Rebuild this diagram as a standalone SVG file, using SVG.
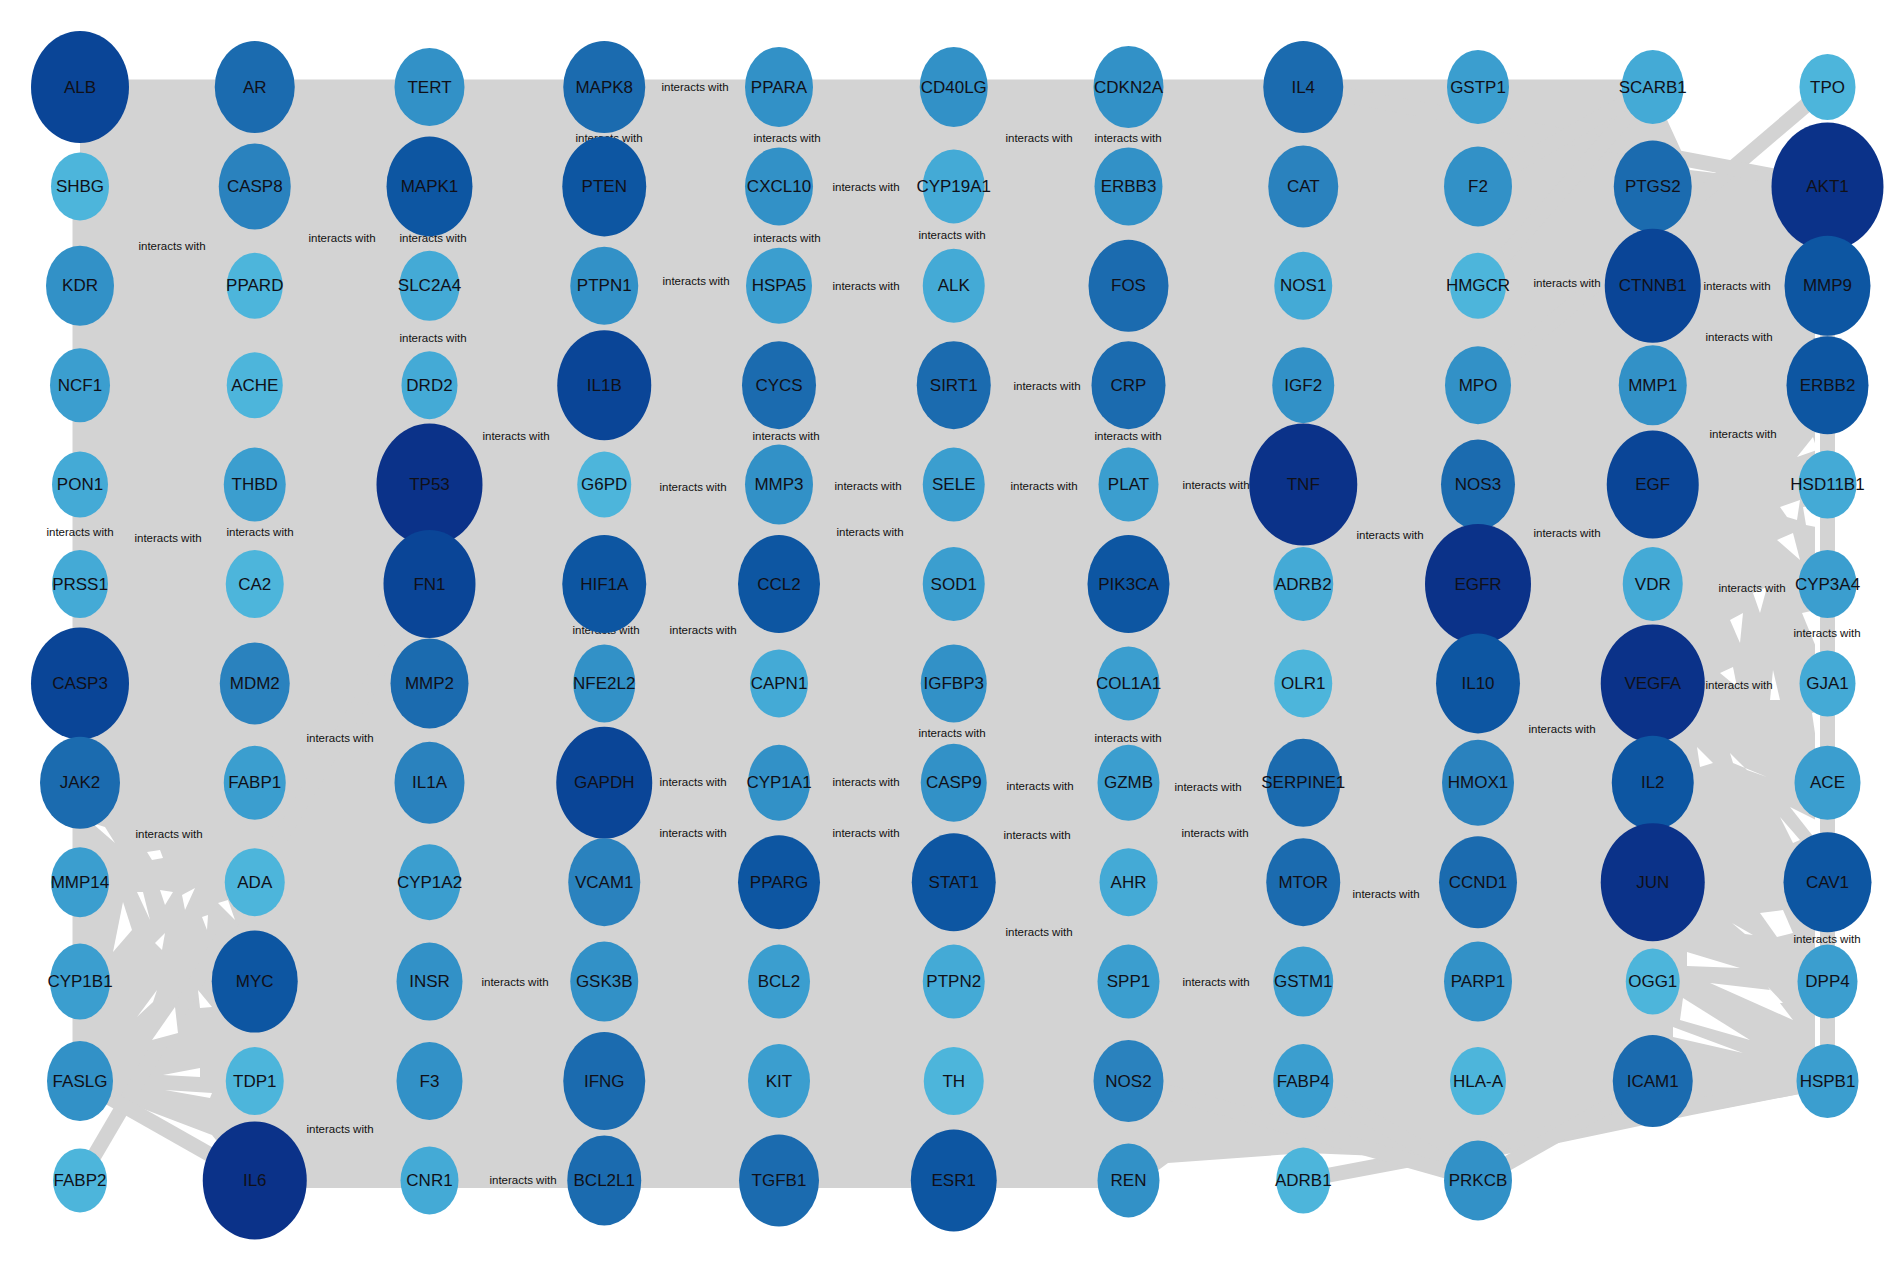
<svg xmlns="http://www.w3.org/2000/svg" width="1890" height="1265" viewBox="0 0 1890 1265">
<style>
.bundle{fill:#d3d3d3;stroke:none}
.gap{fill:#fff;stroke:none}
.e{stroke:#d3d3d3;stroke-width:15;fill:none;stroke-linecap:butt}
.el{font-family:"Liberation Sans",Arial,sans-serif;font-size:11.5px;fill:#111;text-anchor:middle;dominant-baseline:central}
.nd text{font-family:"Liberation Sans",Arial,sans-serif;font-size:17px;fill:#101018;text-anchor:middle;dominant-baseline:central}
.c1{fill:#4db5db}.c2{fill:#44aad6}.c3{fill:#3b9ecf}.c4{fill:#3291c7}.c5{fill:#2a82be}
.c6{fill:#1b6baf}.c7{fill:#0d56a2}.c8{fill:#0a4597}.c9{fill:#0b3289}
</style>
<rect width="1890" height="1265" fill="#fff"/>
<g id="edges">
<path class="bundle" d="M80,87 L1652,87 L1690,170 L1815,185 L1815,1081 L1805,1093 L1692,1115 L1478,1160 L1306,1153 L1168,1163 L1134,1188 L254,1188 L212,1135 L120,1100 L80,1081 Z"/>
<path class="e" d="M80,87 H1652.75"/>
<path class="e" d="M80,186 V1081"/>
<path class="e" d="M1827.5,186 V1081"/>
<path class="e" d="M1827.5,87 L1478,385"/>
<path class="e" d="M1303,87 L1827.5,186"/>
<path class="e" d="M1652.75,87 L1652.75,286"/>
<path class="e" d="M1652.75,87 L1478,286"/>
<path class="e" d="M1652.75,87 L1478,186"/>
<path class="e" d="M80,1180 L429.5,584"/>
<path class="e" d="M80,1081 L254.75,1180"/>
<path class="e" d="M1827.5,1081 L1303,1180"/>
<path class="e" d="M1827.5,1081 L1652.75,1081"/>
<path class="e" d="M1652.75,1081 L1478,1180"/>
<path class="e" d="M1478,1180 L1303,1081"/>
<path class="e" d="M1478,1180 L1128.5,1081"/>
<g id="edge-gaps">
<polygon class="gap" points="1687,952 1740,968 1687,966"/>
<polygon class="gap" points="1710,983 1770,990 1793,1020"/>
<polygon class="gap" points="1683,998 1750,1040 1680,1020"/>
<polygon class="gap" points="1673,1027 1743,1053 1673,1037"/>
<polygon class="gap" points="1760,913 1783,910 1793,933 1777,937"/>
<polygon class="gap" points="1768,987 1783,1003 1778,1003"/>
<polygon class="gap" points="1732,923 1753,935 1745,934"/>
<polygon class="gap" points="147,852 160,850 163,858 152,860"/>
<polygon class="gap" points="160,890 173,892 165,905"/>
<polygon class="gap" points="182,895 195,888 185,910"/>
<polygon class="gap" points="113,952 123,902 132,930"/>
<polygon class="gap" points="137,892 143,892 150,920"/>
<polygon class="gap" points="202,917 208,915 207,930"/>
<polygon class="gap" points="218,903 228,900 235,920"/>
<polygon class="gap" points="155,943 165,933 162,950"/>
<polygon class="gap" points="137,1017 157,990 153,1002"/>
<polygon class="gap" points="152,1040 175,1007 178,1033"/>
<polygon class="gap" points="198,990 212,1007 200,1008"/>
<polygon class="gap" points="163,1075 200,1068 200,1077"/>
<polygon class="gap" points="165,1090 212,1093 210,1098"/>
<polygon class="gap" points="92,823 105,827 115,843"/>
<polygon class="gap" points="1797,457 1813,437 1817,450"/>
<polygon class="gap" points="1780,507 1800,500 1797,520 1787,517"/>
<polygon class="gap" points="1777,540 1793,533 1800,560"/>
<polygon class="gap" points="1730,620 1743,613 1740,643"/>
<polygon class="gap" points="1753,593 1767,587 1760,613"/>
<polygon class="gap" points="1720,673 1733,667 1737,687"/>
<polygon class="gap" points="1773,670 1780,700 1770,700"/>
<polygon class="gap" points="1697,747 1713,763 1700,767"/>
<polygon class="gap" points="1730,753 1747,770 1767,777 1733,763"/>
<polygon class="gap" points="1780,817 1800,840 1793,843"/>
<polygon class="gap" points="1803,507 1816,505 1816,527 1806,525"/>
<polygon class="gap" points="1802,613 1816,610 1816,647"/>
<polygon class="gap" points="1812,713 1816,712 1816,740"/>
<polygon class="gap" points="1790,807 1816,820 1816,840"/>
</g>
</g>
<g id="edge-labels">
<text class="el" x="695" y="87">interacts with</text>
<text class="el" x="609" y="138">interacts with</text>
<text class="el" x="787" y="138">interacts with</text>
<text class="el" x="1039" y="138">interacts with</text>
<text class="el" x="1128" y="138">interacts with</text>
<text class="el" x="866" y="187">interacts with</text>
<text class="el" x="342" y="238">interacts with</text>
<text class="el" x="433" y="238">interacts with</text>
<text class="el" x="787" y="238">interacts with</text>
<text class="el" x="952" y="235">interacts with</text>
<text class="el" x="172" y="246">interacts with</text>
<text class="el" x="696" y="281">interacts with</text>
<text class="el" x="866" y="286">interacts with</text>
<text class="el" x="1567" y="283">interacts with</text>
<text class="el" x="1737" y="286">interacts with</text>
<text class="el" x="433" y="338">interacts with</text>
<text class="el" x="1739" y="337">interacts with</text>
<text class="el" x="1047" y="386">interacts with</text>
<text class="el" x="516" y="436">interacts with</text>
<text class="el" x="786" y="436">interacts with</text>
<text class="el" x="1128" y="436">interacts with</text>
<text class="el" x="1743" y="434">interacts with</text>
<text class="el" x="693" y="487">interacts with</text>
<text class="el" x="868" y="486">interacts with</text>
<text class="el" x="1044" y="486">interacts with</text>
<text class="el" x="1216" y="485">interacts with</text>
<text class="el" x="80" y="532">interacts with</text>
<text class="el" x="168" y="538">interacts with</text>
<text class="el" x="260" y="532">interacts with</text>
<text class="el" x="870" y="532">interacts with</text>
<text class="el" x="1390" y="535">interacts with</text>
<text class="el" x="1567" y="533">interacts with</text>
<text class="el" x="1752" y="588">interacts with</text>
<text class="el" x="606" y="630">interacts with</text>
<text class="el" x="703" y="630">interacts with</text>
<text class="el" x="1827" y="633">interacts with</text>
<text class="el" x="1739" y="685">interacts with</text>
<text class="el" x="340" y="738">interacts with</text>
<text class="el" x="952" y="733">interacts with</text>
<text class="el" x="1128" y="738">interacts with</text>
<text class="el" x="1562" y="729">interacts with</text>
<text class="el" x="693" y="782">interacts with</text>
<text class="el" x="866" y="782">interacts with</text>
<text class="el" x="1040" y="786">interacts with</text>
<text class="el" x="1208" y="787">interacts with</text>
<text class="el" x="169" y="834">interacts with</text>
<text class="el" x="693" y="833">interacts with</text>
<text class="el" x="866" y="833">interacts with</text>
<text class="el" x="1037" y="835">interacts with</text>
<text class="el" x="1215" y="833">interacts with</text>
<text class="el" x="1386" y="894">interacts with</text>
<text class="el" x="1039" y="932">interacts with</text>
<text class="el" x="1827" y="939">interacts with</text>
<text class="el" x="515" y="982">interacts with</text>
<text class="el" x="1216" y="982">interacts with</text>
<text class="el" x="340" y="1129">interacts with</text>
<text class="el" x="523" y="1180">interacts with</text>
</g>
<g id="nodes" class="nd">
<g id="ALB"><ellipse class="c8" cx="80" cy="87" rx="49" ry="56"/><text x="80" y="87">ALB</text></g>
<g id="AR"><ellipse class="c6" cx="254.75" cy="87" rx="40" ry="46"/><text x="254.75" y="87">AR</text></g>
<g id="TERT"><ellipse class="c4" cx="429.5" cy="87" rx="35" ry="39"/><text x="429.5" y="87">TERT</text></g>
<g id="MAPK8"><ellipse class="c6" cx="604.25" cy="87" rx="41" ry="46"/><text x="604.25" y="87">MAPK8</text></g>
<g id="PPARA"><ellipse class="c4" cx="779" cy="87" rx="34" ry="40"/><text x="779" y="87">PPARA</text></g>
<g id="CD40LG"><ellipse class="c4" cx="953.75" cy="87" rx="34" ry="40"/><text x="953.75" y="87">CD40LG</text></g>
<g id="CDKN2A"><ellipse class="c4" cx="1128.5" cy="87" rx="35" ry="41"/><text x="1128.5" y="87">CDKN2A</text></g>
<g id="IL4"><ellipse class="c6" cx="1303.25" cy="87" rx="40" ry="46"/><text x="1303.25" y="87">IL4</text></g>
<g id="GSTP1"><ellipse class="c3" cx="1478" cy="87" rx="31" ry="37"/><text x="1478" y="87">GSTP1</text></g>
<g id="SCARB1"><ellipse class="c2" cx="1652.75" cy="87" rx="31" ry="37"/><text x="1652.75" y="87">SCARB1</text></g>
<g id="TPO"><ellipse class="c1" cx="1827.5" cy="87" rx="28" ry="33"/><text x="1827.5" y="87">TPO</text></g>

<g id="SHBG"><ellipse class="c1" cx="80" cy="186.4" rx="29" ry="34"/><text x="80" y="186.4">SHBG</text></g>
<g id="CASP8"><ellipse class="c5" cx="254.75" cy="186.4" rx="36" ry="43"/><text x="254.75" y="186.4">CASP8</text></g>
<g id="MAPK1"><ellipse class="c7" cx="429.5" cy="186.4" rx="43" ry="50"/><text x="429.5" y="186.4">MAPK1</text></g>
<g id="PTEN"><ellipse class="c7" cx="604.25" cy="186.4" rx="42" ry="50"/><text x="604.25" y="186.4">PTEN</text></g>
<g id="CXCL10"><ellipse class="c4" cx="779" cy="186.4" rx="34" ry="39"/><text x="779" y="186.4">CXCL10</text></g>
<g id="CYP19A1"><ellipse class="c2" cx="953.75" cy="186.4" rx="31" ry="37"/><text x="953.75" y="186.4">CYP19A1</text></g>
<g id="ERBB3"><ellipse class="c4" cx="1128.5" cy="186.4" rx="34" ry="39"/><text x="1128.5" y="186.4">ERBB3</text></g>
<g id="CAT"><ellipse class="c5" cx="1303.25" cy="186.4" rx="35" ry="41"/><text x="1303.25" y="186.4">CAT</text></g>
<g id="F2"><ellipse class="c4" cx="1478" cy="186.4" rx="34" ry="40"/><text x="1478" y="186.4">F2</text></g>
<g id="PTGS2"><ellipse class="c6" cx="1652.75" cy="186.4" rx="39" ry="46"/><text x="1652.75" y="186.4">PTGS2</text></g>
<g id="AKT1"><ellipse class="c9" cx="1827.5" cy="186.4" rx="56" ry="64"/><text x="1827.5" y="186.4">AKT1</text></g>

<g id="KDR"><ellipse class="c4" cx="80" cy="285.8" rx="34" ry="40"/><text x="80" y="285.8">KDR</text></g>
<g id="PPARD"><ellipse class="c1" cx="254.75" cy="285.8" rx="28" ry="33"/><text x="254.75" y="285.8">PPARD</text></g>
<g id="SLC2A4"><ellipse class="c2" cx="429.5" cy="285.8" rx="30" ry="35"/><text x="429.5" y="285.8">SLC2A4</text></g>
<g id="PTPN1"><ellipse class="c4" cx="604.25" cy="285.8" rx="34" ry="39"/><text x="604.25" y="285.8">PTPN1</text></g>
<g id="HSPA5"><ellipse class="c3" cx="779" cy="285.8" rx="33" ry="38"/><text x="779" y="285.8">HSPA5</text></g>
<g id="ALK"><ellipse class="c2" cx="953.75" cy="285.8" rx="31" ry="37"/><text x="953.75" y="285.8">ALK</text></g>
<g id="FOS"><ellipse class="c6" cx="1128.5" cy="285.8" rx="40" ry="46"/><text x="1128.5" y="285.8">FOS</text></g>
<g id="NOS1"><ellipse class="c2" cx="1303.25" cy="285.8" rx="29" ry="34"/><text x="1303.25" y="285.8">NOS1</text></g>
<g id="HMGCR"><ellipse class="c1" cx="1478" cy="285.8" rx="28" ry="33"/><text x="1478" y="285.8">HMGCR</text></g>
<g id="CTNNB1"><ellipse class="c8" cx="1652.75" cy="285.8" rx="48" ry="57"/><text x="1652.75" y="285.8">CTNNB1</text></g>
<g id="MMP9"><ellipse class="c7" cx="1827.5" cy="285.8" rx="43" ry="50"/><text x="1827.5" y="285.8">MMP9</text></g>

<g id="NCF1"><ellipse class="c3" cx="80" cy="385.2" rx="30" ry="37"/><text x="80" y="385.2">NCF1</text></g>
<g id="ACHE"><ellipse class="c1" cx="254.75" cy="385.2" rx="28" ry="33"/><text x="254.75" y="385.2">ACHE</text></g>
<g id="DRD2"><ellipse class="c2" cx="429.5" cy="385.2" rx="28" ry="34"/><text x="429.5" y="385.2">DRD2</text></g>
<g id="IL1B"><ellipse class="c8" cx="604.25" cy="385.2" rx="47" ry="55"/><text x="604.25" y="385.2">IL1B</text></g>
<g id="CYCS"><ellipse class="c6" cx="779" cy="385.2" rx="37" ry="44"/><text x="779" y="385.2">CYCS</text></g>
<g id="SIRT1"><ellipse class="c6" cx="953.75" cy="385.2" rx="37" ry="44"/><text x="953.75" y="385.2">SIRT1</text></g>
<g id="CRP"><ellipse class="c6" cx="1128.5" cy="385.2" rx="37" ry="44"/><text x="1128.5" y="385.2">CRP</text></g>
<g id="IGF2"><ellipse class="c4" cx="1303.25" cy="385.2" rx="31" ry="38"/><text x="1303.25" y="385.2">IGF2</text></g>
<g id="MPO"><ellipse class="c4" cx="1478" cy="385.2" rx="33" ry="39"/><text x="1478" y="385.2">MPO</text></g>
<g id="MMP1"><ellipse class="c4" cx="1652.75" cy="385.2" rx="34" ry="40"/><text x="1652.75" y="385.2">MMP1</text></g>
<g id="ERBB2"><ellipse class="c7" cx="1827.5" cy="385.2" rx="41" ry="49"/><text x="1827.5" y="385.2">ERBB2</text></g>

<g id="PON1"><ellipse class="c2" cx="80" cy="484.6" rx="28" ry="33"/><text x="80" y="484.6">PON1</text></g>
<g id="THBD"><ellipse class="c3" cx="254.75" cy="484.6" rx="31" ry="37"/><text x="254.75" y="484.6">THBD</text></g>
<g id="TP53"><ellipse class="c9" cx="429.5" cy="484.6" rx="53" ry="61"/><text x="429.5" y="484.6">TP53</text></g>
<g id="G6PD"><ellipse class="c1" cx="604.25" cy="484.6" rx="27" ry="33"/><text x="604.25" y="484.6">G6PD</text></g>
<g id="MMP3"><ellipse class="c4" cx="779" cy="484.6" rx="34" ry="40"/><text x="779" y="484.6">MMP3</text></g>
<g id="SELE"><ellipse class="c3" cx="953.75" cy="484.6" rx="31" ry="37"/><text x="953.75" y="484.6">SELE</text></g>
<g id="PLAT"><ellipse class="c3" cx="1128.5" cy="484.6" rx="30" ry="37"/><text x="1128.5" y="484.6">PLAT</text></g>
<g id="TNF"><ellipse class="c9" cx="1303.25" cy="484.6" rx="54" ry="61"/><text x="1303.25" y="484.6">TNF</text></g>
<g id="NOS3"><ellipse class="c6" cx="1478" cy="484.6" rx="37" ry="45"/><text x="1478" y="484.6">NOS3</text></g>
<g id="EGF"><ellipse class="c8" cx="1652.75" cy="484.6" rx="46" ry="54"/><text x="1652.75" y="484.6">EGF</text></g>
<g id="HSD11B1"><ellipse class="c2" cx="1827.5" cy="484.6" rx="29" ry="34"/><text x="1827.5" y="484.6">HSD11B1</text></g>

<g id="PRSS1"><ellipse class="c2" cx="80" cy="584" rx="28" ry="34"/><text x="80" y="584">PRSS1</text></g>
<g id="CA2"><ellipse class="c1" cx="254.75" cy="584" rx="29" ry="34"/><text x="254.75" y="584">CA2</text></g>
<g id="FN1"><ellipse class="c8" cx="429.5" cy="584" rx="46" ry="54"/><text x="429.5" y="584">FN1</text></g>
<g id="HIF1A"><ellipse class="c7" cx="604.25" cy="584" rx="42" ry="49"/><text x="604.25" y="584">HIF1A</text></g>
<g id="CCL2"><ellipse class="c7" cx="779" cy="584" rx="41" ry="49"/><text x="779" y="584">CCL2</text></g>
<g id="SOD1"><ellipse class="c3" cx="953.75" cy="584" rx="31" ry="37"/><text x="953.75" y="584">SOD1</text></g>
<g id="PIK3CA"><ellipse class="c7" cx="1128.5" cy="584" rx="41" ry="49"/><text x="1128.5" y="584">PIK3CA</text></g>
<g id="ADRB2"><ellipse class="c2" cx="1303.25" cy="584" rx="30" ry="37"/><text x="1303.25" y="584">ADRB2</text></g>
<g id="EGFR"><ellipse class="c9" cx="1478" cy="584" rx="53" ry="60"/><text x="1478" y="584">EGFR</text></g>
<g id="VDR"><ellipse class="c2" cx="1652.75" cy="584" rx="30" ry="37"/><text x="1652.75" y="584">VDR</text></g>
<g id="CYP3A4"><ellipse class="c3" cx="1827.5" cy="584" rx="29" ry="34"/><text x="1827.5" y="584">CYP3A4</text></g>

<g id="CASP3"><ellipse class="c8" cx="80" cy="683.4" rx="49" ry="56"/><text x="80" y="683.4">CASP3</text></g>
<g id="MDM2"><ellipse class="c5" cx="254.75" cy="683.4" rx="35" ry="41"/><text x="254.75" y="683.4">MDM2</text></g>
<g id="MMP2"><ellipse class="c6" cx="429.5" cy="683.4" rx="39" ry="45"/><text x="429.5" y="683.4">MMP2</text></g>
<g id="NFE2L2"><ellipse class="c4" cx="604.25" cy="683.4" rx="31" ry="39"/><text x="604.25" y="683.4">NFE2L2</text></g>
<g id="CAPN1"><ellipse class="c2" cx="779" cy="683.4" rx="29" ry="34"/><text x="779" y="683.4">CAPN1</text></g>
<g id="IGFBP3"><ellipse class="c4" cx="953.75" cy="683.4" rx="33" ry="39"/><text x="953.75" y="683.4">IGFBP3</text></g>
<g id="COL1A1"><ellipse class="c3" cx="1128.5" cy="683.4" rx="31" ry="37"/><text x="1128.5" y="683.4">COL1A1</text></g>
<g id="OLR1"><ellipse class="c1" cx="1303.25" cy="683.4" rx="29" ry="34"/><text x="1303.25" y="683.4">OLR1</text></g>
<g id="IL10"><ellipse class="c7" cx="1478" cy="683.4" rx="42" ry="50"/><text x="1478" y="683.4">IL10</text></g>
<g id="VEGFA"><ellipse class="c9" cx="1652.75" cy="683.4" rx="52" ry="59"/><text x="1652.75" y="683.4">VEGFA</text></g>
<g id="GJA1"><ellipse class="c2" cx="1827.5" cy="683.4" rx="28" ry="33"/><text x="1827.5" y="683.4">GJA1</text></g>

<g id="JAK2"><ellipse class="c6" cx="80" cy="782.8" rx="40" ry="46"/><text x="80" y="782.8">JAK2</text></g>
<g id="FABP1"><ellipse class="c3" cx="254.75" cy="782.8" rx="31" ry="37"/><text x="254.75" y="782.8">FABP1</text></g>
<g id="IL1A"><ellipse class="c5" cx="429.5" cy="782.8" rx="35" ry="41"/><text x="429.5" y="782.8">IL1A</text></g>
<g id="GAPDH"><ellipse class="c8" cx="604.25" cy="782.8" rx="48" ry="56"/><text x="604.25" y="782.8">GAPDH</text></g>
<g id="CYP1A1"><ellipse class="c4" cx="779" cy="782.8" rx="31" ry="38"/><text x="779" y="782.8">CYP1A1</text></g>
<g id="CASP9"><ellipse class="c4" cx="953.75" cy="782.8" rx="33" ry="39"/><text x="953.75" y="782.8">CASP9</text></g>
<g id="GZMB"><ellipse class="c3" cx="1128.5" cy="782.8" rx="31" ry="38"/><text x="1128.5" y="782.8">GZMB</text></g>
<g id="SERPINE1"><ellipse class="c6" cx="1303.25" cy="782.8" rx="37" ry="44"/><text x="1303.25" y="782.8">SERPINE1</text></g>
<g id="HMOX1"><ellipse class="c5" cx="1478" cy="782.8" rx="36" ry="43"/><text x="1478" y="782.8">HMOX1</text></g>
<g id="IL2"><ellipse class="c7" cx="1652.75" cy="782.8" rx="41" ry="47"/><text x="1652.75" y="782.8">IL2</text></g>
<g id="ACE"><ellipse class="c3" cx="1827.5" cy="782.8" rx="33" ry="37"/><text x="1827.5" y="782.8">ACE</text></g>

<g id="MMP14"><ellipse class="c3" cx="80" cy="882.2" rx="29" ry="35"/><text x="80" y="882.2">MMP14</text></g>
<g id="ADA"><ellipse class="c1" cx="254.75" cy="882.2" rx="30" ry="34"/><text x="254.75" y="882.2">ADA</text></g>
<g id="CYP1A2"><ellipse class="c3" cx="429.5" cy="882.2" rx="31" ry="38"/><text x="429.5" y="882.2">CYP1A2</text></g>
<g id="VCAM1"><ellipse class="c5" cx="604.25" cy="882.2" rx="36" ry="44"/><text x="604.25" y="882.2">VCAM1</text></g>
<g id="PPARG"><ellipse class="c7" cx="779" cy="882.2" rx="41" ry="47"/><text x="779" y="882.2">PPARG</text></g>
<g id="STAT1"><ellipse class="c7" cx="953.75" cy="882.2" rx="42" ry="49"/><text x="953.75" y="882.2">STAT1</text></g>
<g id="AHR"><ellipse class="c2" cx="1128.5" cy="882.2" rx="29" ry="34"/><text x="1128.5" y="882.2">AHR</text></g>
<g id="MTOR"><ellipse class="c6" cx="1303.25" cy="882.2" rx="37" ry="44"/><text x="1303.25" y="882.2">MTOR</text></g>
<g id="CCND1"><ellipse class="c6" cx="1478" cy="882.2" rx="39" ry="46"/><text x="1478" y="882.2">CCND1</text></g>
<g id="JUN"><ellipse class="c9" cx="1652.75" cy="882.2" rx="52" ry="59"/><text x="1652.75" y="882.2">JUN</text></g>
<g id="CAV1"><ellipse class="c7" cx="1827.5" cy="882.2" rx="44" ry="50"/><text x="1827.5" y="882.2">CAV1</text></g>

<g id="CYP1B1"><ellipse class="c3" cx="80" cy="981.6" rx="30" ry="38"/><text x="80" y="981.6">CYP1B1</text></g>
<g id="MYC"><ellipse class="c7" cx="254.75" cy="981.6" rx="43" ry="51"/><text x="254.75" y="981.6">MYC</text></g>
<g id="INSR"><ellipse class="c4" cx="429.5" cy="981.6" rx="33" ry="39"/><text x="429.5" y="981.6">INSR</text></g>
<g id="GSK3B"><ellipse class="c4" cx="604.25" cy="981.6" rx="34" ry="40"/><text x="604.25" y="981.6">GSK3B</text></g>
<g id="BCL2"><ellipse class="c3" cx="779" cy="981.6" rx="31" ry="37"/><text x="779" y="981.6">BCL2</text></g>
<g id="PTPN2"><ellipse class="c2" cx="953.75" cy="981.6" rx="31" ry="37"/><text x="953.75" y="981.6">PTPN2</text></g>
<g id="SPP1"><ellipse class="c3" cx="1128.5" cy="981.6" rx="31" ry="37"/><text x="1128.5" y="981.6">SPP1</text></g>
<g id="GSTM1"><ellipse class="c3" cx="1303.25" cy="981.6" rx="30" ry="35"/><text x="1303.25" y="981.6">GSTM1</text></g>
<g id="PARP1"><ellipse class="c4" cx="1478" cy="981.6" rx="34" ry="40"/><text x="1478" y="981.6">PARP1</text></g>
<g id="OGG1"><ellipse class="c1" cx="1652.75" cy="981.6" rx="27" ry="33"/><text x="1652.75" y="981.6">OGG1</text></g>
<g id="DPP4"><ellipse class="c3" cx="1827.5" cy="981.6" rx="30" ry="37"/><text x="1827.5" y="981.6">DPP4</text></g>

<g id="FASLG"><ellipse class="c4" cx="80" cy="1081" rx="33" ry="40"/><text x="80" y="1081">FASLG</text></g>
<g id="TDP1"><ellipse class="c1" cx="254.75" cy="1081" rx="29" ry="34"/><text x="254.75" y="1081">TDP1</text></g>
<g id="F3"><ellipse class="c4" cx="429.5" cy="1081" rx="33" ry="39"/><text x="429.5" y="1081">F3</text></g>
<g id="IFNG"><ellipse class="c6" cx="604.25" cy="1081" rx="41" ry="49"/><text x="604.25" y="1081">IFNG</text></g>
<g id="KIT"><ellipse class="c3" cx="779" cy="1081" rx="31" ry="37"/><text x="779" y="1081">KIT</text></g>
<g id="TH"><ellipse class="c1" cx="953.75" cy="1081" rx="30" ry="34"/><text x="953.75" y="1081">TH</text></g>
<g id="NOS2"><ellipse class="c5" cx="1128.5" cy="1081" rx="35" ry="41"/><text x="1128.5" y="1081">NOS2</text></g>
<g id="FABP4"><ellipse class="c3" cx="1303.25" cy="1081" rx="30" ry="37"/><text x="1303.25" y="1081">FABP4</text></g>
<g id="HLA-A"><ellipse class="c1" cx="1478" cy="1081" rx="28" ry="34"/><text x="1478" y="1081">HLA-A</text></g>
<g id="ICAM1"><ellipse class="c6" cx="1652.75" cy="1081" rx="40" ry="46"/><text x="1652.75" y="1081">ICAM1</text></g>
<g id="HSPB1"><ellipse class="c3" cx="1827.5" cy="1081" rx="31" ry="37"/><text x="1827.5" y="1081">HSPB1</text></g>

<g id="FABP2"><ellipse class="c1" cx="80" cy="1180.4" rx="27" ry="32"/><text x="80" y="1180.4">FABP2</text></g>
<g id="IL6"><ellipse class="c9" cx="254.75" cy="1180.4" rx="52" ry="59"/><text x="254.75" y="1180.4">IL6</text></g>
<g id="CNR1"><ellipse class="c2" cx="429.5" cy="1180.4" rx="29" ry="34"/><text x="429.5" y="1180.4">CNR1</text></g>
<g id="BCL2L1"><ellipse class="c6" cx="604.25" cy="1180.4" rx="37" ry="45"/><text x="604.25" y="1180.4">BCL2L1</text></g>
<g id="TGFB1"><ellipse class="c6" cx="779" cy="1180.4" rx="40" ry="46"/><text x="779" y="1180.4">TGFB1</text></g>
<g id="ESR1"><ellipse class="c7" cx="953.75" cy="1180.4" rx="43" ry="51"/><text x="953.75" y="1180.4">ESR1</text></g>
<g id="REN"><ellipse class="c4" cx="1128.5" cy="1180.4" rx="31" ry="37"/><text x="1128.5" y="1180.4">REN</text></g>
<g id="ADRB1"><ellipse class="c1" cx="1303.25" cy="1180.4" rx="27" ry="33"/><text x="1303.25" y="1180.4">ADRB1</text></g>
<g id="PRKCB"><ellipse class="c4" cx="1478" cy="1180.4" rx="34" ry="40"/><text x="1478" y="1180.4">PRKCB</text></g>
</g>
</svg>
